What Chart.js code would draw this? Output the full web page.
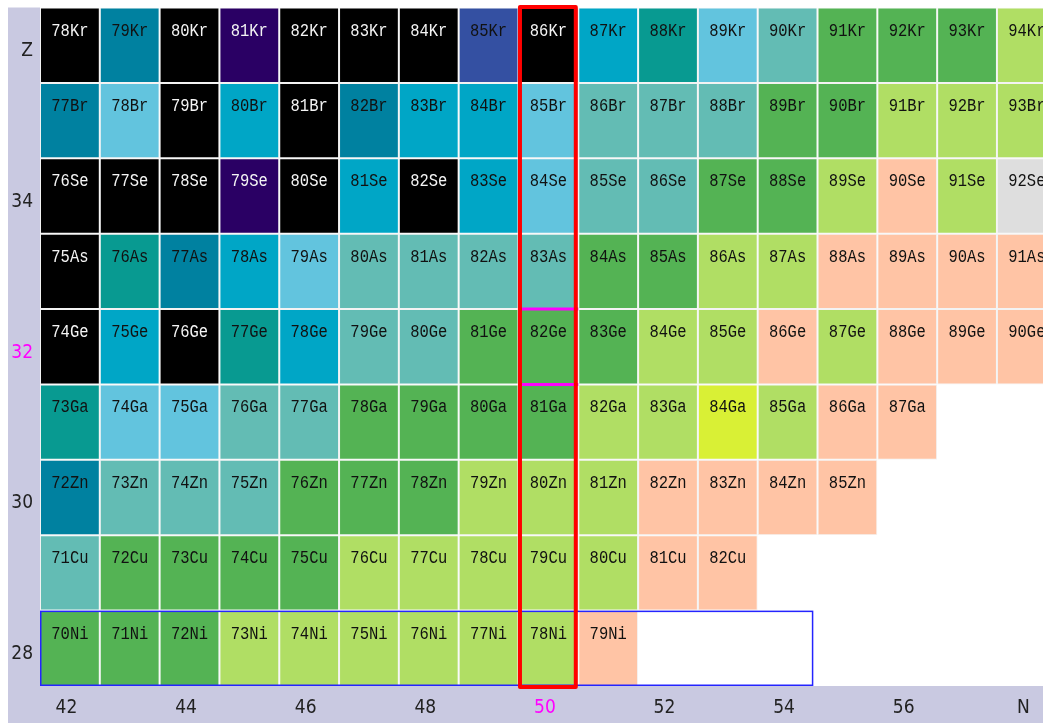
<!DOCTYPE html>
<html>
<head>
<meta charset="utf-8">
<title>Nuclide chart around 78Ni</title>
<script src="https://cdn.jsdelivr.net/npm/chart.js@4.4.1/dist/chart.umd.min.js"></script>
<style>
html,body{margin:0;padding:0;background:#fff;}
canvas{display:block;}
</style>
</head>
<body>
<canvas id="nuc" width="1043" height="723"></canvas>
<script>
// element rows, top (Kr) to bottom (Ni); every row starts at N = 42
const elemZ=[36,35,34,33,32,31,30,29,28];
const elemSym=['Kr','Br','Se','As','Ge','Ga','Zn','Cu','Ni'];
const firstN=42;

// half-life class of each cell, left to right (N = 42, 43, ...)
const rowKr=['K','T','K','P','K','K','K','B','K','C','G','L','S','M','M','M','Y'];
const rowBr=['T','L','K','C','K','T','C','C','L','S','S','S','M','M','Y','Y','Y'];
const rowSe=['K','K','K','P','K','C','K','C','L','S','S','M','M','Y','O','Y','W'];
const rowAs=['K','G','T','C','L','S','S','S','S','M','M','Y','Y','O','O','O','O'];
const rowGe=['K','C','K','G','C','S','S','M','M','M','Y','Y','O','Y','O','O','O'];
const rowGa=['G','L','L','S','S','M','M','M','M','Y','Y','V','Y','O','O'];
const rowZn=['T','S','S','S','M','M','M','Y','Y','Y','O','O','O','O'];
const rowCu=['S','M','M','M','M','Y','Y','Y','Y','Y','O','O'];
const rowNi=['M','M','M','Y','Y','Y','Y','Y','Y','O'];
const cellRows=[rowKr,rowBr,rowSe,rowAs,rowGe,rowGa,rowZn,rowCu,rowNi];

const nTicks=[42,44,46,48,50,52,54,56,58];
const zTicks=[28,30,32,34,36];
const magicN=50, magicZ=28;

// colours for the classes
const palette={
  K:'#000000', T:'#0081a0', P:'#2a0064', B:'#3450a2', C:'#00a6c6',
  G:'#089a91', L:'#62c4de', S:'#63bcb4', M:'#54b354', Y:'#b0de64',
  O:'#ffc4a5', V:'#d9f035', W:'#dedede'
};
const whiteText=['K','P'];

// one floating bar per nuclide, spanning Z-0.5 .. Z+0.5
const cells=[];
cellRows.forEach((row,r)=>{
  row.forEach((cls,i)=>{
    const z=elemZ[r], n=firstN+i;
    cells.push({x:n, y:[z-0.5,z+0.5], cls:cls, label:(z+n)+elemSym[r]});
  });
});

const lavender='#c9c9e1';
const tickFont={family:'"Liberation Sans Narrow","DejaVu Sans Condensed","Liberation Sans",sans-serif',size:19};

// axis strips behind everything
const frameBg={
  id:'frameBg',
  beforeDraw(chart){
    const {ctx,chartArea,width,height}=chart;
    const left=chart.scales.y.left;
    ctx.save();
    ctx.fillStyle='#fff';
    ctx.fillRect(0,0,width,height);
    ctx.fillStyle=lavender;
    ctx.fillRect(left,chartArea.top,chartArea.left-left,height-chartArea.top);
    ctx.fillRect(left,chartArea.bottom,width-left,height-chartArea.bottom);
    ctx.restore();
  }
};

// nuclide name in each cell
const cellText={
  id:'cellText',
  afterDatasetsDraw(chart){
    const ctx=chart.ctx;
    const meta=chart.getDatasetMeta(0);
    ctx.save();
    ctx.font='18px "Liberation Mono","DejaVu Sans Mono",monospace';
    ctx.textAlign='center';
    ctx.textBaseline='alphabetic';
    meta.data.forEach((bar,i)=>{
      const c=cells[i];
      const top=Math.min(bar.y,bar.base);
      ctx.fillStyle=whiteText.includes(c.cls)?'#f4f4f4':'#111';
      ctx.save();
      ctx.translate(bar.x,top+28);
      ctx.scale(0.86,1);
      ctx.fillText(c.label,0,0);
      ctx.restore();
    });
    ctx.restore();
  }
};

// magic-number frames: Z=28 row, N=50 column, Z=32 marks
const magicMarks={
  id:'magicMarks',
  afterDatasetsDraw(chart){
    const ctx=chart.ctx, xs=chart.scales.x, ys=chart.scales.y;
    ctx.save();
    // Z = 28 row
    const bx0=xs.getPixelForValue(firstN-0.5), bx1=xs.getPixelForValue(54.43);
    const by0=ys.getPixelForValue(magicZ+0.5), by1=ys.getPixelForValue(magicZ-0.5);
    ctx.strokeStyle='#2424ff';
    ctx.lineWidth=1.5;
    ctx.strokeRect(bx0+0.75,by0+0.75,bx1-bx0-1.5,by1-by0-1.5);
    // Z = 32 marks inside the N = 50 column
    const cx0=xs.getPixelForValue(magicN-0.5), cx1=xs.getPixelForValue(magicN+0.5);
    ctx.strokeStyle='#ff00ff';
    ctx.lineWidth=3;
    [32.5,31.5].forEach(v=>{
      const y=ys.getPixelForValue(v);
      ctx.beginPath(); ctx.moveTo(cx0,y); ctx.lineTo(cx1,y); ctx.stroke();
    });
    // N = 50 column
    const top=ys.getPixelForValue(36.5)-0.5, bottom=ys.getPixelForValue(27.5)+1;
    ctx.strokeStyle='#ff0000';
    ctx.lineWidth=4;
    ctx.lineJoin='round';
    ctx.strokeRect(cx0+1.5,top,cx1-cx0-4,bottom-top);
    ctx.restore();
  }
};

new Chart(document.getElementById('nuc'),{
  type:'bar',
  data:{datasets:[{
    data:cells,
    backgroundColor:c=>c.raw?palette[c.raw.cls]:'#000',
    borderColor:'#f3f3f3',
    borderWidth:1,
    borderSkipped:false,
    inflateAmount:0,
    barPercentage:1,
    categoryPercentage:1
  }]},
  options:{
    responsive:false,
    devicePixelRatio:1,
    animation:false,
    events:[],
    layout:{padding:{left:8,top:7.5,right:0,bottom:0}},
    plugins:{legend:{display:false},tooltip:{enabled:false}},
    scales:{
      x:{
        type:'linear',
        min:41.5,
        max:58.27,
        offset:false,
        grid:{display:false,drawTicks:false},
        border:{display:false},
        afterBuildTicks:s=>{s.ticks=nTicks.map(v=>({value:v}));},
        afterFit:s=>{s.height=37;s.paddingLeft=0;s.paddingRight=0;},
        ticks:{
          font:tickFont,
          padding:11,
          labelOffset:-3.5,
          maxRotation:0,
          autoSkip:false,
          color:c=>c.tick.value===magicN?'#ff00ff':'#222',
          callback:v=>v===58?'N':v
        }
      },
      y:{
        type:'linear',
        min:27.5,
        max:36.5,
        grid:{display:false,drawTicks:false},
        border:{display:false},
        afterBuildTicks:s=>{s.ticks=zTicks.map(v=>({value:v}));},
        afterFit:s=>{s.width=32;s.paddingTop=0;s.paddingBottom=0;},
        ticks:{
          font:tickFont,
          padding:7,
          labelOffset:6,
          autoSkip:false,
          color:c=>c.tick.value===32?'#ff00ff':'#222',
          callback:v=>v===36?'Z':v
        }
      }
    }
  },
  plugins:[frameBg,cellText,magicMarks]
});
</script>
</body>
</html>
